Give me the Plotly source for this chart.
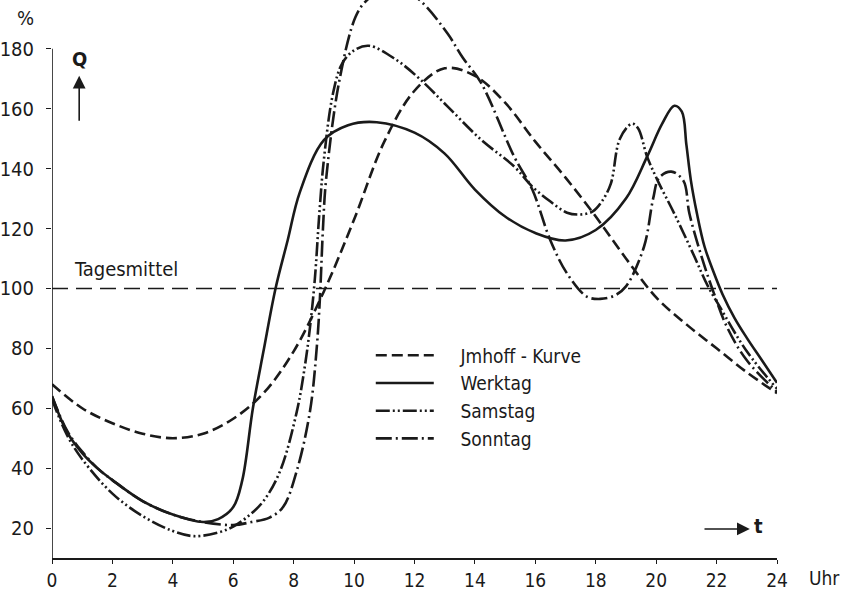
import plotly.graph_objects as go

# ---------------- data ----------------
jmhoff_t = [0, 1, 2, 3, 4, 5, 6, 7, 8, 9, 10, 11, 12, 13, 14, 15, 16, 17, 18, 19, 20, 21, 22, 23, 24]
jmhoff_q = [68, 60, 55, 51.5, 50, 51.5, 56.5, 65, 79, 99, 123, 149, 166, 173.5, 171, 162, 149, 137, 124, 110, 97, 88, 80, 72, 65]

werktag_t = [0, 0.5, 1, 1.5, 2, 3, 4, 5, 5.5, 6, 6.3, 6.65, 7, 7.4, 7.8, 8.2, 9, 9.8, 10.75, 12, 13, 14,
             15, 16, 17, 18, 19, 19.7, 20.2, 20.6, 20.85, 21.0, 21.15, 21.35, 21.6, 21.9, 22.2,
             22.6, 23, 23.5, 24]
werktag_q = [64, 52, 45, 40, 36, 29, 24.5, 22, 23, 27, 36, 60, 79, 100, 116, 132, 149.5, 154.5, 155.5, 152, 145, 133,
             124, 118.5, 116, 119.5, 130, 144, 155, 161, 159, 148, 136, 125, 114, 105.5, 98,
             90, 83.5, 76, 68.5]

samstag_t = [0, 0.5, 1, 2, 3, 4, 4.7, 5.5, 6, 6.5, 7, 7.55, 8.1, 8.37, 8.54, 8.7, 8.85, 9.0, 9.3, 9.6, 10, 10.5,
             11.4, 12.2, 13.1, 14.2, 15.3, 15.9, 16.5, 17.05, 17.5, 17.9, 18.2, 18.5, 18.8, 19.2, 19.4, 19.7,
             20.05, 20.6, 21.25, 21.7, 22.1, 23, 24]
samstag_q = [63, 51, 43, 31.5, 24, 19, 17.3, 18.5, 20.5, 24, 29, 39, 58.7, 74, 87, 103, 125, 143, 165, 175, 179.5, 181,
             176.3, 169.7, 160.7, 149.7, 140.7, 134, 129, 125.3, 124.7, 125.7, 129, 135, 150, 155, 153.5, 144,
             136, 125, 111, 101, 94, 79, 66.5]

sonntag_t = [0, 0.5, 1, 1.5, 2, 3, 4, 5, 6, 6.6, 7.2, 7.65, 8.1, 8.54, 8.77, 8.87, 8.97, 9.07, 9.5, 10.05, 10.4,
             11.3, 12.2, 13.1, 13.6, 14.2, 15.3, 15.9, 16.5, 17.05, 17.7, 18.15, 18.6, 19.0, 19.6, 19.9, 20.1,
             20.5, 20.9, 21.1, 21.5, 21.9, 22.35, 23, 24]
sonntag_q = [64, 52.5, 45.5, 40, 36, 29, 24.5, 22, 21, 22, 23.5, 27, 39, 59, 81, 97, 120, 136, 168.7, 190.7, 196,
             202, 196, 185, 177, 168.7, 144, 133, 116, 105, 97.3, 96.5, 97.5, 100.7, 114, 130, 137,
             139, 136, 125, 110.7, 98.7, 87, 76, 65.5]

tagesmittel = 100
hour_ticks = list(range(0, 25, 2))
pct_ticks = list(range(20, 181, 20))

FONT = "DejaVu Sans Condensed, Liberation Sans, sans-serif"
INK = "#1a1a1a"
GAP = "\u00a0" * 4

fig = go.Figure()

series = [
    ("Jmhoff - Kurve", jmhoff_t, jmhoff_q, "11px,5px"),
    ("Werktag", werktag_t, werktag_q, "solid"),
    ("Samstag", samstag_t, samstag_q, "14px,3px,2px,3px,2px,3px"),
    ("Sonntag", sonntag_t, sonntag_q, "16px,4px,2px,4px"),
]
for name, t, q, dash in series:
    fig.add_trace(go.Scatter(
        x=t, y=q, name=GAP + name, mode="lines",
        line=dict(color=INK, width=2.6, dash=dash, shape="spline", smoothing=1.0),
    ))

fig.add_hline(y=tagesmittel, line=dict(color=INK, width=1.4, dash="16px,8px"))

# y axis line only between 10 and 180
fig.add_shape(type="line", xref="x", yref="y", x0=0, x1=0, y0=10, y1=pct_ticks[-1],
              line=dict(color=INK, width=1.6))

ann_font = dict(family=FONT, size=20, color=INK)
fig.add_annotation(x=-0.036, y=0.967, xref="paper", yref="paper", text="%", showarrow=False,
                   xanchor="center", yanchor="middle", font=ann_font)
fig.add_annotation(x=0.9, y=176.5, xref="x", yref="y", text="<b>Q</b>", showarrow=False,
                   xanchor="center", yanchor="middle", font=ann_font)
fig.add_annotation(x=0.9, y=171, xref="x", yref="y", ax=0.9, ay=155.5, axref="x", ayref="y",
                   text="", showarrow=True, arrowhead=2, arrowsize=1.6, arrowwidth=1.6, arrowcolor=INK)
fig.add_annotation(x=0.65, y=106.5, xref="x", yref="y", text="Tagesmittel", showarrow=False,
                   xanchor="left", yanchor="middle", font=ann_font)
fig.add_annotation(x=23.1, y=19.7, xref="x", yref="y", ax=21.55, ay=19.7, axref="x", ayref="y",
                   text="", showarrow=True, arrowhead=2, arrowsize=1.6, arrowwidth=1.6, arrowcolor=INK)
fig.add_annotation(x=23.4, y=20.6, xref="x", yref="y", text="<b>t</b>", showarrow=False,
                   xanchor="center", yanchor="middle", font=ann_font)
fig.add_annotation(x=1.066, y=-0.036, xref="paper", yref="paper", text="Uhr", showarrow=False,
                   xanchor="center", yanchor="middle", font=dict(family=FONT, size=19, color=INK))

fig.update_layout(
    width=847, height=592,
    margin=dict(l=52, r=70, t=0, b=34, pad=0),
    template="none",
    paper_bgcolor="white", plot_bgcolor="white",
    font=dict(family=FONT, size=20, color=INK),
    showlegend=True,
    legend=dict(x=0.4397, y=0.397, xanchor="left", yanchor="top", bgcolor="rgba(0,0,0,0)",
                font=dict(family=FONT, size=19, color=INK), itemwidth=58, tracegroupgap=0),
    xaxis=dict(range=[0, 24], tickvals=hour_ticks, ticks="outside", ticklen=4, tickwidth=1.4,
               tickcolor=INK, showline=True, linecolor=INK, linewidth=1.6, showgrid=False,
               zeroline=False, ticklabelstandoff=0, automargin=False,
               tickfont=dict(family=FONT, size=19, color=INK)),
    yaxis=dict(range=[10, 196.3], tickvals=pct_ticks, ticks="outside", ticklen=5, tickwidth=1.4,
               tickcolor=INK, showline=False, showgrid=False, zeroline=False,
               ticklabelstandoff=8, automargin=False,
               tickfont=dict(family=FONT, size=20, color=INK)),
)

fig.write_html("out.html")
